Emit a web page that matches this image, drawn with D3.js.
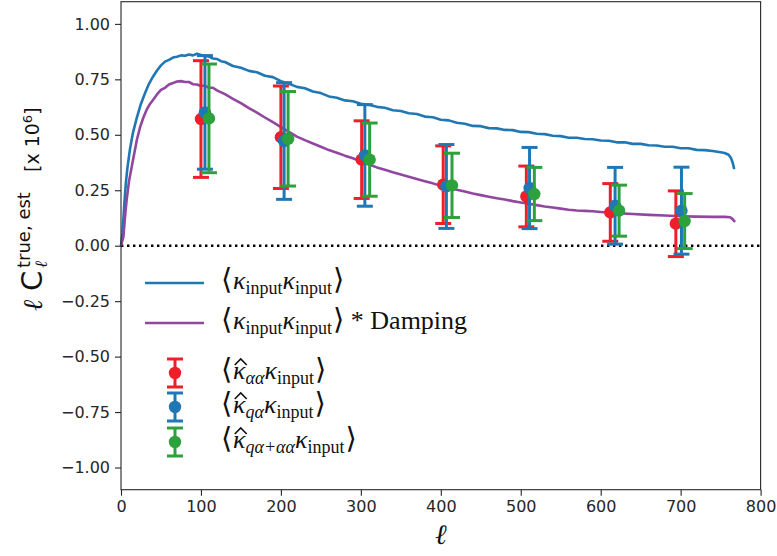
<!DOCTYPE html>
<html><head><meta charset="utf-8">
<script src="https://cdn.jsdelivr.net/npm/d3@7"></script>
<style>html,body{margin:0;padding:0;background:#fff;} svg{display:block;}</style>
</head><body>
<svg id="chart" width="777" height="556"></svg>
<script>
// ---- data ----
const ellTrue = [0,2,4,6,8,11,15,20,25,30,35,40,45,50,55,60,65,70,75,80,85,90,95,100,105,110,115,120,125,130,140,150,160,170,180,190,200,210,220,230,240,250,260,270,280,290,300,310,320,330,340,350,360,370,380,390,400,410,420,430,440,450,460,470,480,490,500,510,520,530,540,550,560,570,580,590,600,610,620,630,640,650,660,670,680,690,700,710,720,730,740,750,755,760,763,765,767];
const clTrue = [0,0.06,0.18,0.28,0.35,0.43,0.51,0.58,0.64,0.687,0.73,0.762,0.79,0.813,0.83,0.838,0.848,0.852,0.858,0.856,0.862,0.858,0.865,0.86,0.855,0.853,0.844,0.842,0.832,0.828,0.81,0.802,0.788,0.782,0.766,0.76,0.742,0.73,0.716,0.71,0.695,0.688,0.673,0.667,0.655,0.651,0.64,0.635,0.626,0.622,0.611,0.607,0.597,0.594,0.582,0.579,0.568,0.565,0.554,0.55,0.54,0.539,0.53,0.529,0.522,0.521,0.513,0.512,0.505,0.503,0.496,0.494,0.487,0.487,0.481,0.48,0.474,0.473,0.466,0.466,0.459,0.459,0.453,0.452,0.446,0.446,0.439,0.439,0.432,0.431,0.427,0.421,0.418,0.41,0.395,0.375,0.345];

const ellDamp = [0,3,5,7,10,15,20,24,28,32,36,40,45,50,55,60,65,70,75,80,85,90,95,100,105,110,115,120,130,140,150,160,170,180,190,200,210,220,230,240,250,260,270,280,290,300,310,320,330,340,350,360,370,380,390,400,410,420,430,440,450,460,470,480,490,500,510,520,530,540,550,560,570,580,590,600,620,640,660,680,700,720,740,755,762,765,768];
const clDamp = [0,0.04,0.13,0.205,0.29,0.386,0.48,0.536,0.578,0.612,0.638,0.657,0.682,0.702,0.712,0.727,0.733,0.74,0.742,0.738,0.738,0.728,0.727,0.72,0.722,0.712,0.712,0.7,0.683,0.662,0.643,0.62,0.6,0.578,0.557,0.535,0.513,0.492,0.476,0.461,0.446,0.431,0.419,0.406,0.394,0.38,0.366,0.353,0.342,0.331,0.321,0.311,0.301,0.291,0.281,0.27,0.261,0.252,0.244,0.235,0.228,0.221,0.214,0.208,0.201,0.195,0.189,0.183,0.177,0.172,0.167,0.162,0.159,0.157,0.155,0.152,0.147,0.143,0.139,0.136,0.133,0.131,0.13,0.13,0.128,0.12,0.107];

const ellAA = [100,200,301,403,507,612,694];
const valAA = [0.571,0.489,0.388,0.275,0.222,0.150,0.099];
const errAA = [0.263,0.231,0.175,0.175,0.137,0.130,0.148];

const ellQA = [105,204,305,407,511,618,701];
const valQA = [0.601,0.472,0.407,0.267,0.260,0.180,0.158];
const errQA = [0.256,0.263,0.229,0.189,0.183,0.173,0.196];

const ellQAAA = [110,209,311,414,517,623,705];
const valQAAA = [0.574,0.482,0.388,0.272,0.233,0.158,0.111];
const errQAAA = [0.245,0.213,0.165,0.145,0.120,0.115,0.124];

const xTicks = [0,100,200,300,400,500,600,700,800];
const yTicks = [-1.00,-0.75,-0.50,-0.25,0.00,0.25,0.50,0.75,1.00];

// ---- layout ----
const L = 121, R = 760.6, T = 1.7, B = 489.7;
const svg = d3.select("#chart");
const x = d3.scaleLinear().domain([0,800]).range([L,R]);
const y = d3.scaleLinear().domain([-1.1,1.1]).range([B,T]);

const C_BLUE = "#1f77b4", C_PURPLE = "#9146a0", C_RED = "#ee1f28", C_GREEN = "#2ca13c";
const axisColor = "#262626";

// zero dotted line
svg.append("line").attr("x1",x(0)).attr("x2",R).attr("y1",y(0)).attr("y2",y(0))
  .attr("stroke","#000").attr("stroke-width",2.4).attr("stroke-dasharray","2.4,3.6");

const line = d3.line().x(d=>x(d[0])).y(d=>y(d[1]));
svg.append("path").datum(ellTrue.map((l,i)=>[l,clTrue[i]])).attr("d",line)
  .attr("fill","none").attr("stroke",C_BLUE).attr("stroke-width",2.6).attr("stroke-linejoin","round");
svg.append("path").datum(ellDamp.map((l,i)=>[l,clDamp[i]])).attr("d",line)
  .attr("fill","none").attr("stroke",C_PURPLE).attr("stroke-width",2.6).attr("stroke-linejoin","round");

function errSeries(ells, vals, errs, color){
  const g = svg.append("g");
  const d = ells.map((l,i)=>({l, v:vals[i], e:errs[i]}));
  g.selectAll("line.v").data(d).join("line").attr("x1",d=>x(d.l)).attr("x2",d=>x(d.l))
    .attr("y1",d=>y(d.v-d.e)).attr("y2",d=>y(d.v+d.e)).attr("stroke",color).attr("stroke-width",3);
  g.selectAll("line.t").data(d).join("line").attr("x1",d=>x(d.l)-8).attr("x2",d=>x(d.l)+8)
    .attr("y1",d=>y(d.v+d.e)).attr("y2",d=>y(d.v+d.e)).attr("stroke",color).attr("stroke-width",3);
  g.selectAll("line.b").data(d).join("line").attr("x1",d=>x(d.l)-8).attr("x2",d=>x(d.l)+8)
    .attr("y1",d=>y(d.v-d.e)).attr("y2",d=>y(d.v-d.e)).attr("stroke",color).attr("stroke-width",3);
  g.selectAll("circle").data(d).join("circle").attr("cx",d=>x(d.l)).attr("cy",d=>y(d.v))
    .attr("r",6.2).attr("fill",color);
}
errSeries(ellAA, valAA, errAA, C_RED);
errSeries(ellQA, valQA, errQA, C_BLUE);
errSeries(ellQAAA, valQAAA, errQAAA, C_GREEN);

// frame
svg.append("rect").attr("x",L).attr("y",T).attr("width",R-L).attr("height",B-T)
  .attr("fill","none").attr("stroke",axisColor).attr("stroke-width",1.1);

// axes
const fmtY = d3.format(".2f");
const xAxis = d3.axisBottom(x).tickValues(xTicks).tickSize(6).tickPadding(5).tickFormat(d3.format("d"));
const yAxis = d3.axisLeft(y).tickValues(yTicks).tickSize(6).tickPadding(5).tickFormat(fmtY);
const gx = svg.append("g").attr("transform",`translate(0,${B})`).call(xAxis);
const gy = svg.append("g").attr("transform",`translate(${L},0)`).call(yAxis);
[gx,gy].forEach(g=>{
  g.select(".domain").remove();
  g.selectAll(".tick line").attr("stroke",axisColor).attr("stroke-width",1.1);
  g.selectAll(".tick text").attr("fill","#262626").style("font-family","DejaVu Sans").style("font-size","16px");
});

// x label
svg.append("text").attr("x",(L+R)/2).attr("y",544).attr("text-anchor","middle")
  .style("font-family","DejaVu Serif").style("font-style","italic").style("font-size","28px").attr("fill","#111").text("ℓ");

// y label (rotated group)
const yl = svg.append("g").attr("transform","translate(42,0) rotate(-90)");
yl.append("text").attr("x",-311).attr("y",0).style("font-family","DejaVu Serif").style("font-style","italic")
  .style("font-size","27px").attr("fill","#111").text("ℓ");
yl.append("text").attr("x",-291).attr("y",0).style("font-family","DejaVu Sans")
  .style("font-size","29px").attr("fill","#111").text("C");
yl.append("text").attr("x",-268).attr("y",-12).style("font-family","DejaVu Sans")
  .style("font-size","18px").attr("fill","#111").text("true, est");
yl.append("text").attr("x",-268).attr("y",5).style("font-family","DejaVu Serif").style("font-style","italic")
  .style("font-size","17px").attr("fill","#111").text("ℓ");
const yt = yl.append("text").attr("x",-172).attr("y",-3).style("font-family","DejaVu Sans")
  .style("font-size","19px").attr("fill","#111");
yt.append("tspan").text("[x 10");
yt.append("tspan").attr("dy",-7).style("font-size","13px").text("6");
yt.append("tspan").attr("dy",7).text("]");

// legend
const legendX = 221;
const lg = svg.append("g");
const mainFS = 26, subFS = 18;
function mathLabel(yc, hatSub, damping){
  const base = yc + 6;
  const t = lg.append("text").attr("x",legendX).attr("y",base)
    .style("font-family","'Liberation Serif','DejaVu Serif',serif").style("font-size",mainFS+"px").attr("fill","#111");
  t.append("tspan").style("font-family","DejaVu Sans").style("font-weight","200").style("font-size","29px").text("⟨");
  t.append("tspan").attr("dx",1).style("font-style","italic").text("κ");
  if(hatSub){
    t.append("tspan").attr("dy",5).style("font-style","italic").style("font-size",subFS+"px").text(hatSub);
  } else {
    t.append("tspan").attr("dy",5).style("font-size",subFS+"px").text("input");
  }
  t.append("tspan").attr("dy",-5).style("font-style","italic").text("κ");
  t.append("tspan").attr("dy",5).style("font-size",subFS+"px").text("input");
  t.append("tspan").attr("dy",-5).attr("dx",1).style("font-family","DejaVu Sans").style("font-size","29px").text("⟩");
  if(damping) t.append("tspan").text(" * Damping");
  if(hatSub){
    const ext = t.node().getExtentOfChar(1);
    const cx = ext.x + ext.width/2 + 1.5;
    lg.append("path").attr("d",`M${cx-6},${base-14} L${cx},${base-20} L${cx+6},${base-14}`)
      .attr("fill","none").attr("stroke","#111").attr("stroke-width",1.6).attr("stroke-linejoin","miter");
  }
}
// line handles
[[283,C_BLUE,false],[323,C_PURPLE,true]].forEach(([yc,c,dmp])=>{
  lg.append("line").attr("x1",145).attr("x2",204).attr("y1",yc).attr("y2",yc).attr("stroke",c).attr("stroke-width",2.6);
  mathLabel(yc,null,dmp);
});
[[373,C_RED,"αα"],[407,C_BLUE,"qα"],[442,C_GREEN,"qα+αα"]].forEach(([yc,c,sub])=>{
  lg.append("line").attr("x1",175).attr("x2",175).attr("y1",yc-14).attr("y2",yc+14).attr("stroke",c).attr("stroke-width",3);
  lg.append("line").attr("x1",167).attr("x2",183).attr("y1",yc-14).attr("y2",yc-14).attr("stroke",c).attr("stroke-width",3);
  lg.append("line").attr("x1",167).attr("x2",183).attr("y1",yc+14).attr("y2",yc+14).attr("stroke",c).attr("stroke-width",3);
  lg.append("circle").attr("cx",175).attr("cy",yc).attr("r",6.2).attr("fill",c);
  mathLabel(yc,sub,false);
});
</script>
</body></html>
